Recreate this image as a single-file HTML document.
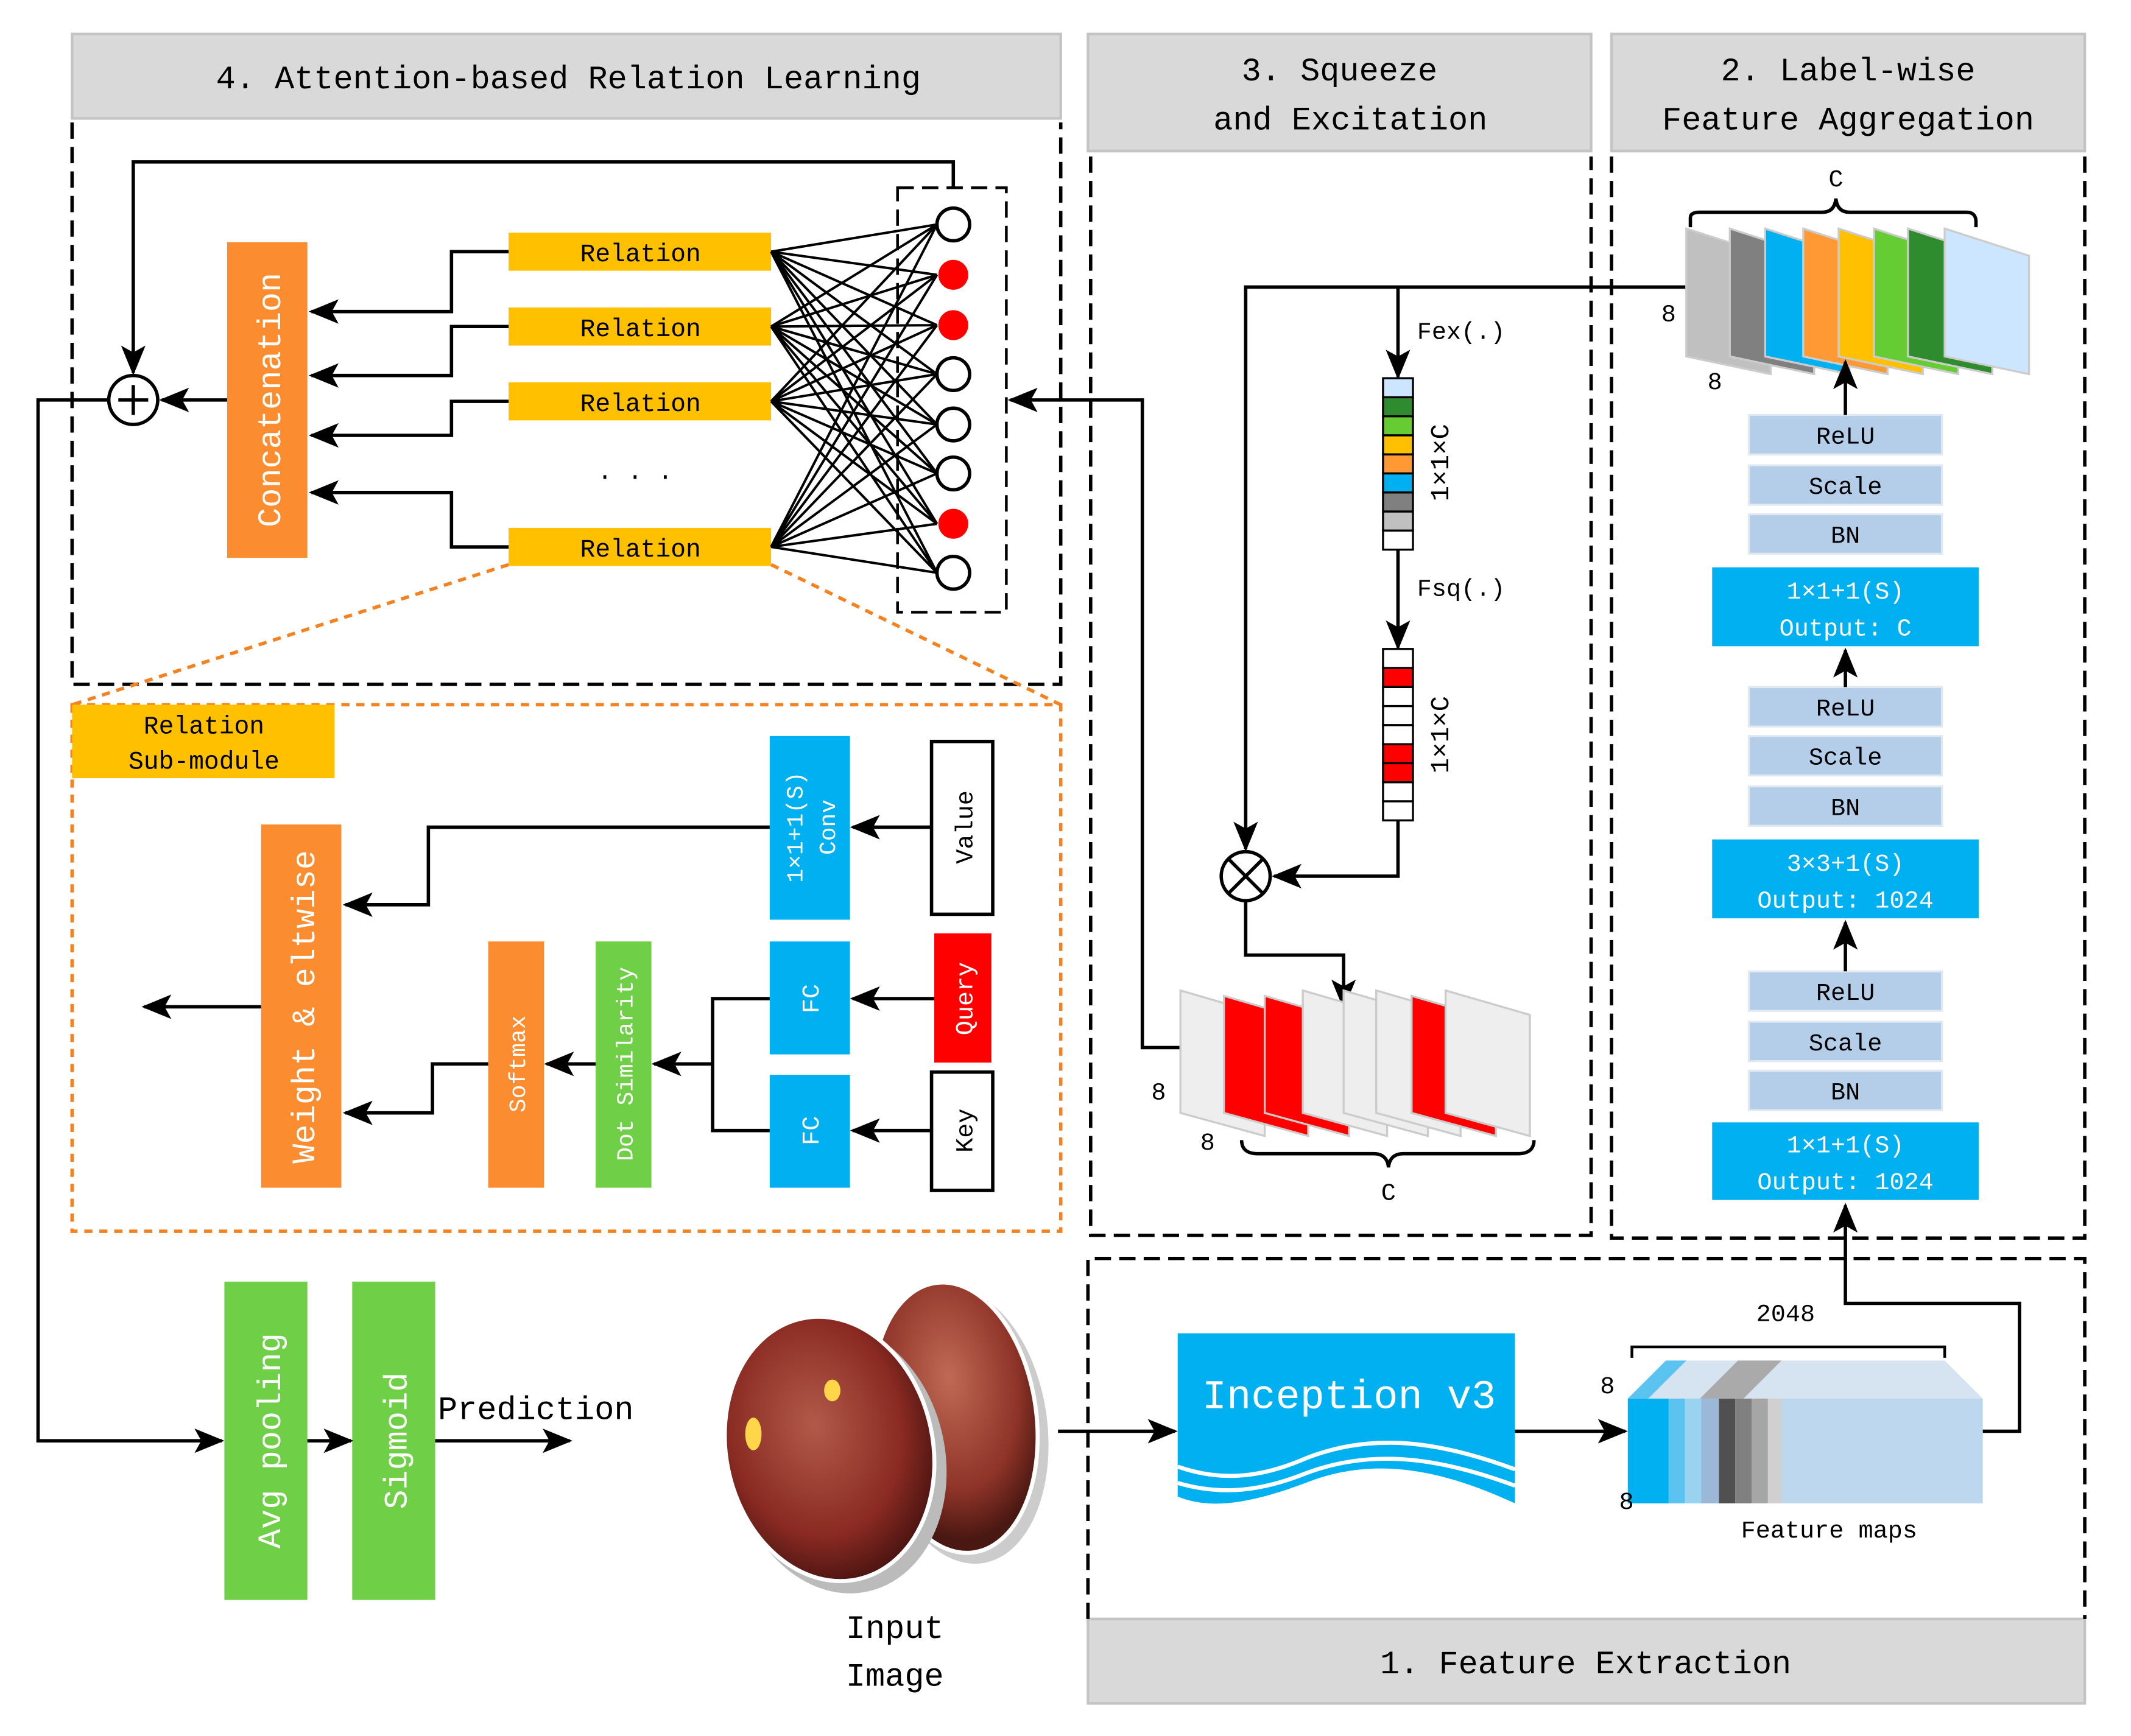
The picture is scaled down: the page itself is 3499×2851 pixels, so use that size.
<!DOCTYPE html>
<html><head><meta charset="utf-8"><style>
html,body{margin:0;padding:0;background:#fff}
svg{display:block}
text{font-family:"Liberation Mono","WenQuanYi Zen Hei",monospace;}
</style></head><body>
<svg xmlns="http://www.w3.org/2000/svg" width="3499" height="2851" viewBox="0 0 1567 1276" preserveAspectRatio="none">
<defs>
<marker id="b" markerWidth="22" markerHeight="22" refX="20" refY="11" orient="auto" markerUnits="userSpaceOnUse" viewBox="0 0 22 22"><path d="M0,2 L22,11 L0,20 L5,11 z" fill="#000"/></marker>
<radialGradient id="d1" cx="45%" cy="40%" r="60%"><stop offset="0" stop-color="#b25a4a"/><stop offset="0.7" stop-color="#8a2a22"/><stop offset="1" stop-color="#4e1512"/></radialGradient>
<radialGradient id="d2" cx="50%" cy="35%" r="60%"><stop offset="0" stop-color="#c06a55"/><stop offset="0.7" stop-color="#8e3328"/><stop offset="1" stop-color="#4a1812"/></radialGradient>
</defs>
<rect x="53" y="25" width="727" height="62" fill="#d9d9d9" stroke="#c4c4c4" stroke-width="2"/>
<text x="418" y="65" font-size="24" text-anchor="middle">4.  Attention-based Relation Learning</text>
<rect x="800" y="25" width="370" height="86" fill="#d9d9d9" stroke="#c4c4c4" stroke-width="2"/>
<text x="985" y="59" font-size="24" text-anchor="middle">3.  Squeeze</text>
<text x="993" y="95" font-size="24" text-anchor="middle">and Excitation</text>
<rect x="1185" y="25" width="348" height="86" fill="#d9d9d9" stroke="#c4c4c4" stroke-width="2"/>
<text x="1359" y="59" font-size="24" text-anchor="middle">2.  Label-wise</text>
<text x="1359" y="95" font-size="24" text-anchor="middle">Feature Aggregation</text>
<rect x="800" y="1190" width="733" height="62" fill="#d9d9d9" stroke="#c4c4c4" stroke-width="2"/>
<text x="1166" y="1230" font-size="24" text-anchor="middle">1.  Feature Extraction</text>

<g fill="none" stroke="#000" stroke-width="2.5" stroke-dasharray="12,6">
<path d="M53,90 V503 H780 V90"/>
<path d="M802,115 V908 H1170 V115"/>
<path d="M1185,115 V910 H1533 V115"/>
<path d="M800,1190 V925 H1533 V1190"/>
<rect x="660" y="138" width="80" height="312" stroke-width="2"/>
</g>
<g fill="none" stroke="#f58220" stroke-width="2.5" stroke-dasharray="6,5">
<rect x="53" y="518" width="727" height="387"/>
<path d="M374,415 L53,518 M567,415 L780,518"/>
</g>

<rect x="167" y="178" width="59" height="232" fill="#fb8c2f"/>
<text transform="translate(206,294) rotate(-90)" font-size="24" fill="#fff" text-anchor="middle">Concatenation</text>
<g fill="#ffc000">
<rect x="374" y="171" width="193" height="28"/><rect x="374" y="226" width="193" height="28"/>
<rect x="374" y="281" width="193" height="28"/><rect x="374" y="388" width="193" height="28"/>
</g>
<g font-size="18.5" text-anchor="middle">
<text x="471" y="192">Relation</text><text x="471" y="247">Relation</text><text x="471" y="302">Relation</text><text x="471" y="409">Relation</text>
<text x="467" y="352">. . .</text>
</g>
<g stroke="#000" stroke-width="1.8">
<path d="M567,185 L689,165 M567,185 L689,202 M567,185 L689,239 M567,185 L689,275 M567,185 L689,312 M567,185 L689,348 M567,185 L689,385 M567,185 L689,421
M567,240 L689,165 M567,240 L689,202 M567,240 L689,239 M567,240 L689,275 M567,240 L689,312 M567,240 L689,348 M567,240 L689,385 M567,240 L689,421
M567,295 L689,165 M567,295 L689,202 M567,295 L689,239 M567,295 L689,275 M567,295 L689,312 M567,295 L689,348 M567,295 L689,385 M567,295 L689,421
M567,402 L689,165 M567,402 L689,202 M567,402 L689,239 M567,402 L689,275 M567,402 L689,312 M567,402 L689,348 M567,402 L689,385 M567,402 L689,421"/>
</g>
<g stroke="#000" stroke-width="2.5" fill="#fff">
<circle cx="701" cy="165" r="12"/><circle cx="701" cy="275" r="12"/><circle cx="701" cy="312" r="12"/><circle cx="701" cy="348" r="12"/><circle cx="701" cy="421" r="12"/>
</g>
<g fill="#f00"><circle cx="701" cy="202" r="11"/><circle cx="701" cy="239" r="11"/><circle cx="701" cy="385" r="11"/></g>

<g fill="none" stroke="#000" stroke-width="2.5">
<path d="M374,185 H332 V229 H229" marker-end="url(#b)"/>
<path d="M374,240 H332 V276 H229" marker-end="url(#b)"/>
<path d="M374,295 H332 V320 H229" marker-end="url(#b)"/>
<path d="M374,402 H332 V362 H229" marker-end="url(#b)"/>
<path d="M167,294 H119" marker-end="url(#b)"/>
<path d="M701,138 V119 H98 V274" marker-end="url(#b)"/>
<circle cx="98" cy="294" r="18"/>
<path d="M98,283 V305 M87,294 H109"/>
<path d="M80,294 H28 V1059 H163" marker-end="url(#b)"/>
<path d="M868,770 H840 V294 H743" marker-end="url(#b)"/>
</g>

<rect x="53" y="518" width="193" height="54" fill="#ffc000"/>
<text x="150" y="539" font-size="18.5" text-anchor="middle">Relation</text>
<text x="150" y="565" font-size="18.5" text-anchor="middle">Sub-module</text>
<rect x="192" y="606" width="59" height="267" fill="#fb8c2f"/>
<text transform="translate(231,740) rotate(-90)" font-size="24" fill="#fff" text-anchor="middle">Weight &amp; eltwise</text>
<rect x="566" y="541" width="59" height="135" fill="#00b0f0"/>
<text transform="translate(590,608) rotate(-90)" font-size="17" fill="#fff" text-anchor="middle">1×1+1(S)</text>
<text transform="translate(614,608) rotate(-90)" font-size="17" fill="#fff" text-anchor="middle">Conv</text>
<rect x="685" y="545" width="45" height="127" fill="#fff" stroke="#000" stroke-width="2.5"/>
<text transform="translate(715,608) rotate(-90)" font-size="18" text-anchor="middle">Value</text>
<rect x="687" y="686" width="42" height="95" fill="#f00"/>
<text transform="translate(715,734) rotate(-90)" font-size="18" fill="#fff" text-anchor="middle">Query</text>
<rect x="685" y="788" width="45" height="87" fill="#fff" stroke="#000" stroke-width="2.5"/>
<text transform="translate(715,831) rotate(-90)" font-size="18" text-anchor="middle">Key</text>
<rect x="566" y="692" width="59" height="83" fill="#00b0f0"/>
<text transform="translate(602,734) rotate(-90)" font-size="18" fill="#fff" text-anchor="middle">FC</text>
<rect x="566" y="790" width="59" height="83" fill="#00b0f0"/>
<text transform="translate(602,831) rotate(-90)" font-size="18" fill="#fff" text-anchor="middle">FC</text>
<rect x="438" y="692" width="41" height="181" fill="#6fcf47"/>
<text transform="translate(465,782) rotate(-90)" font-size="17" fill="#fff" text-anchor="middle">Dot Similarity</text>
<rect x="359" y="692" width="41" height="181" fill="#fb8c2f"/>
<text transform="translate(386,782) rotate(-90)" font-size="17" fill="#fff" text-anchor="middle">Softmax</text>
<g fill="none" stroke="#000" stroke-width="2.5">
<path d="M685,608 H627" marker-end="url(#b)"/>
<path d="M687,734 H627" marker-end="url(#b)"/>
<path d="M685,831 H627" marker-end="url(#b)"/>
<path d="M566,608 H315 V665 H254" marker-end="url(#b)"/>
<path d="M566,734 H524 V831 H566 M524,782 H481" marker-end="url(#b)"/>
<path d="M438,782 H402" marker-end="url(#b)"/>
<path d="M359,782 H318 V818 H254" marker-end="url(#b)"/>
<path d="M192,740 H106" marker-end="url(#b)"/>
</g>

<rect x="165" y="942" width="61" height="234" fill="#6fcf47"/>
<text transform="translate(206,1059) rotate(-90)" font-size="24" fill="#fff" text-anchor="middle">Avg pooling</text>
<rect x="259" y="942" width="61" height="234" fill="#6fcf47"/>
<text transform="translate(299,1059) rotate(-90)" font-size="24" fill="#fff" text-anchor="middle">Sigmoid</text>
<g fill="none" stroke="#000" stroke-width="2.5">
<path d="M226,1059 H258" marker-end="url(#b)"/>
<path d="M320,1059 H419" marker-end="url(#b)"/>
<path d="M778,1052 H864" marker-end="url(#b)"/>
<path d="M1114,1052 H1195" marker-end="url(#b)"/>
<path d="M1458,1052 H1485 V958 H1357 V886" marker-end="url(#b)"/>
</g>
<text x="322" y="1043" font-size="24">Prediction</text>

<ellipse cx="708" cy="1048" rx="62" ry="102" fill="#ccc" transform="rotate(-8 708 1048)"/>
<ellipse cx="702" cy="1042" rx="60" ry="100" fill="url(#d2)" stroke="#fff" stroke-width="3" transform="rotate(-8 702 1042)"/>
<ellipse cx="617" cy="1072" rx="78" ry="100" fill="#bbb" transform="rotate(-12 617 1072)"/>
<ellipse cx="610" cy="1065" rx="76" ry="98" fill="url(#d1)" stroke="#fff" stroke-width="3" transform="rotate(-12 610 1065)"/>
<ellipse cx="554" cy="1054" rx="6" ry="12" fill="#ffd54a"/>
<ellipse cx="612" cy="1022" rx="6" ry="8" fill="#ffd54a"/>
<text x="658" y="1204" font-size="24" text-anchor="middle">Input</text>
<text x="658" y="1239" font-size="24" text-anchor="middle">Image</text>

<path d="M866,980 H1114 V1105 C1060,1080 1010,1070 960,1090 C920,1105 890,1110 866,1100 Z" fill="#00b0f0"/>
<path d="M866,1078 C900,1090 930,1085 960,1072 C1010,1052 1060,1060 1114,1080" fill="none" stroke="#fff" stroke-width="3"/>
<path d="M866,1090 C900,1100 930,1095 960,1083 C1010,1064 1060,1072 1114,1092" fill="none" stroke="#fff" stroke-width="3"/>
<text x="992" y="1035" font-size="30" fill="#fff" text-anchor="middle">Inception v3</text>

<polygon points="1197,1028 1225,1000 1430,1000 1458,1028" fill="#d6e4f2"/>
<rect x="1197" y="1028" width="261" height="77" fill="#bdd7ee"/>
<rect x="1197" y="1028" width="30" height="77" fill="#00b0f0"/>
<rect x="1227" y="1028" width="12" height="77" fill="#5bc3f0"/>
<rect x="1239" y="1028" width="12" height="77" fill="#9ad3f0"/>
<rect x="1251" y="1028" width="13" height="77" fill="#9bb8d8"/>
<rect x="1264" y="1028" width="12" height="77" fill="#505050"/>
<rect x="1276" y="1028" width="12" height="77" fill="#808080"/>
<rect x="1288" y="1028" width="12" height="77" fill="#a6a6a6"/>
<rect x="1300" y="1028" width="10" height="77" fill="#d0d0d0"/>
<polygon points="1197,1028 1225,1000 1240,1000 1212,1028" fill="#5bc3f0"/>
<polygon points="1250,1028 1278,1000 1310,1000 1282,1028" fill="#aaa"/>
<path d="M1200,998 V990 H1430 V998" fill="none" stroke="#000" stroke-width="2"/>
<text x="1313" y="971" font-size="18" text-anchor="middle">2048</text>
<text x="1182" y="1024" font-size="18" text-anchor="middle">8</text>
<text x="1196" y="1109" font-size="18" text-anchor="middle">8</text>
<text x="1345" y="1130" font-size="18" text-anchor="middle">Feature maps</text>

<g fill="none" stroke="#000" stroke-width="2.5">
<path d="M1240,211 H916 V624" marker-end="url(#b)"/>
<path d="M1028,211 V277" marker-end="url(#b)"/>
<path d="M1028,404 V476" marker-end="url(#b)"/>
<path d="M1028,603 V644 H937" marker-end="url(#b)"/>
<path d="M916,662 V702 H988 V740" marker-end="url(#b)"/>
<circle cx="916" cy="644" r="18" fill="#fff"/>
<path d="M903,631 L929,657 M929,631 L903,657"/>
</g>
<text x="1042" y="249" font-size="18">Fex(.)</text>
<text x="1042" y="438" font-size="18">Fsq(.)</text>
<g stroke="#000" stroke-width="1.5">
<rect x="1017" y="278" width="22" height="14" fill="#cce6ff"/>
<rect x="1017" y="292" width="22" height="14" fill="#2e8b2e"/>
<rect x="1017" y="306" width="22" height="14" fill="#66cc33"/>
<rect x="1017" y="320" width="22" height="14" fill="#ffc000"/>
<rect x="1017" y="334" width="22" height="14" fill="#ff9933"/>
<rect x="1017" y="348" width="22" height="14" fill="#00b0f0"/>
<rect x="1017" y="362" width="22" height="14" fill="#808080"/>
<rect x="1017" y="376" width="22" height="14" fill="#c0c0c0"/>
<rect x="1017" y="390" width="22" height="14" fill="#fff"/>
<rect x="1017" y="477" width="22" height="14" fill="#fff"/>
<rect x="1017" y="491" width="22" height="14" fill="#f00"/>
<rect x="1017" y="505" width="22" height="14" fill="#fff"/>
<rect x="1017" y="519" width="22" height="14" fill="#fff"/>
<rect x="1017" y="533" width="22" height="14" fill="#fff"/>
<rect x="1017" y="547" width="22" height="14" fill="#f00"/>
<rect x="1017" y="561" width="22" height="14" fill="#f00"/>
<rect x="1017" y="575" width="22" height="14" fill="#fff"/>
<rect x="1017" y="589" width="22" height="14" fill="#fff"/>
</g>
<text transform="translate(1065,340) rotate(-90)" font-size="19" text-anchor="middle">1×1×C</text>
<text transform="translate(1065,540) rotate(-90)" font-size="19" text-anchor="middle">1×1×C</text>
<g stroke="#ccc" stroke-width="1.5">
<polygon points="868,728 930,746 930,835 868,818" fill="#eee"/>
<polygon points="900,732 962,750 962,835 900,818" fill="#f00"/>
<polygon points="930,732 992,750 992,835 930,818" fill="#f00"/>
<polygon points="958,728 1020,746 1020,835 958,818" fill="#eee"/>
<polygon points="988,728 1050,746 1050,835 988,818" fill="#eee"/>
<polygon points="1012,728 1074,746 1074,835 1012,818" fill="#eee"/>
<polygon points="1038,732 1100,750 1100,835 1038,818" fill="#f00"/>
<polygon points="1063,728 1125,746 1125,835 1063,818" fill="#eee"/>
</g>
<path d="M913,838 Q913,848 925,848 H1010 Q1020,848 1021,858 Q1022,848 1032,848 H1116 Q1128,848 1128,838" fill="none" stroke="#000" stroke-width="2.5"/>
<text x="1021" y="882" font-size="18" text-anchor="middle">C</text>
<text x="852" y="808" font-size="18" text-anchor="middle">8</text>
<text x="888" y="845" font-size="18" text-anchor="middle">8</text>

<g stroke="#ccc" stroke-width="1.5">
<polygon points="1240,168 1302,188 1302,275 1240,262" fill="#c0c0c0"/>
<polygon points="1272,168 1334,188 1334,275 1272,262" fill="#808080"/>
<polygon points="1298,168 1360,188 1360,275 1298,262" fill="#00b0f0"/>
<polygon points="1326,168 1388,188 1388,275 1326,262" fill="#ff9933"/>
<polygon points="1352,168 1414,188 1414,275 1352,262" fill="#ffc000"/>
<polygon points="1378,168 1440,188 1440,275 1378,262" fill="#66cc33"/>
<polygon points="1403,168 1465,188 1465,275 1403,262" fill="#2e8b2e"/>
<polygon points="1430,168 1492,188 1492,275 1430,262" fill="#cce6ff"/>
</g>
<path d="M1243,167 V160 Q1243,156 1250,156 H1340 Q1349,156 1350,146 Q1351,156 1360,156 H1446 Q1453,156 1453,163 V167" fill="none" stroke="#000" stroke-width="2.5"/>
<text x="1350" y="137" font-size="18" text-anchor="middle">C</text>
<text x="1227" y="236" font-size="18" text-anchor="middle">8</text>
<text x="1261" y="286" font-size="18" text-anchor="middle">8</text>
<g fill="#b4cde9" stroke="#e0e8f2" stroke-width="1.5">
<rect x="1286" y="305" width="142" height="29"/><rect x="1286" y="342" width="142" height="29"/><rect x="1286" y="378" width="142" height="29"/>
<rect x="1286" y="505" width="142" height="29"/><rect x="1286" y="541" width="142" height="29"/><rect x="1286" y="578" width="142" height="29"/>
<rect x="1286" y="714" width="142" height="29"/><rect x="1286" y="751" width="142" height="29"/><rect x="1286" y="787" width="142" height="29"/>
</g>
<g font-size="18" text-anchor="middle">
<text x="1357" y="326">ReLU</text><text x="1357" y="363">Scale</text><text x="1357" y="399">BN</text>
<text x="1357" y="526">ReLU</text><text x="1357" y="562">Scale</text><text x="1357" y="599">BN</text>
<text x="1357" y="735">ReLU</text><text x="1357" y="772">Scale</text><text x="1357" y="808">BN</text>
</g>
<g fill="#00b0f0">
<rect x="1259" y="417" width="196" height="58"/><rect x="1259" y="617" width="196" height="58"/><rect x="1259" y="825" width="196" height="57"/>
</g>
<g font-size="18" text-anchor="middle" fill="#fff">
<text x="1357" y="440">1×1+1(S)</text><text x="1357" y="467">Output: C</text>
<text x="1357" y="640">3×3+1(S)</text><text x="1357" y="667">Output: 1024</text>
<text x="1357" y="847">1×1+1(S)</text><text x="1357" y="874">Output: 1024</text>
</g>
<g fill="none" stroke="#000" stroke-width="2.5">
<path d="M1357,305 V266" marker-end="url(#b)"/>
<path d="M1357,505 V478" marker-end="url(#b)"/>
<path d="M1357,714 V678" marker-end="url(#b)"/>
</g>
</svg>
</body></html>
